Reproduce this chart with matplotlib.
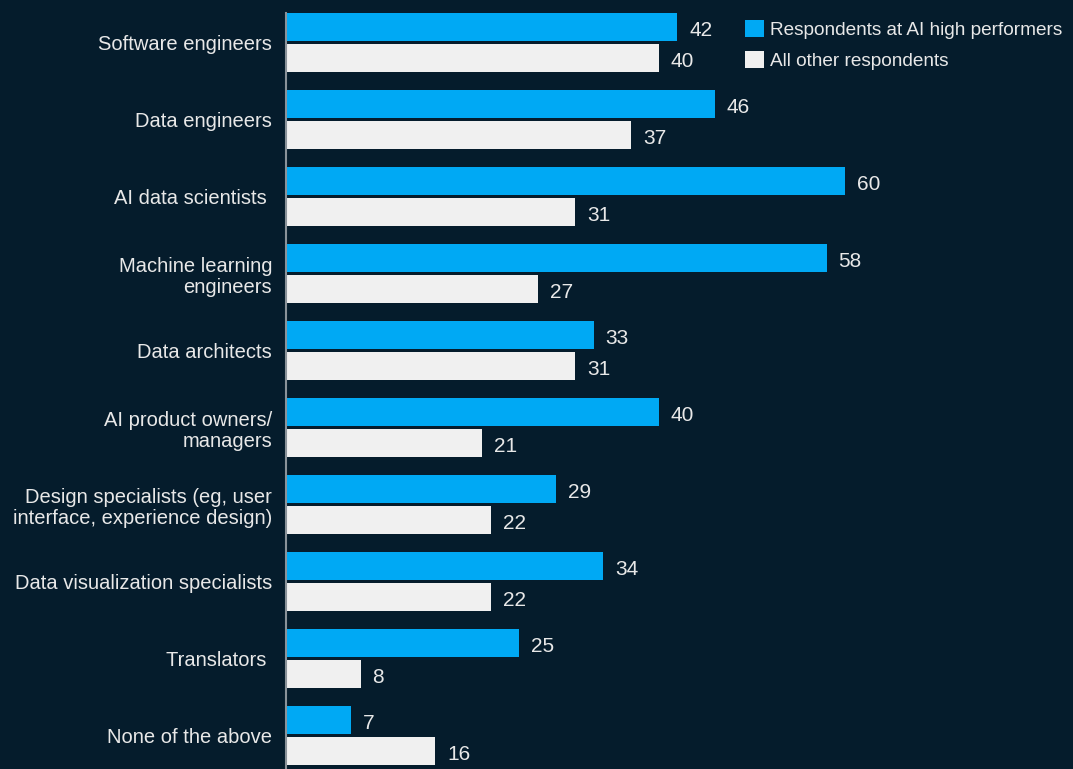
import matplotlib.pyplot as plt
import numpy as np

categories = [
    "Software engineers",
    "Data engineers",
    "AI data scientists ",
    "Machine learning\nengineers",
    "Data architects",
    "AI product owners/\nmanagers",
    "Design specialists (eg, user\ninterface, experience design)",
    "Data visualization specialists",
    "Translators ",
    "None of the above",
]
high_performers = [42, 46, 60, 58, 33, 40, 29, 34, 25, 7]
all_others = [40, 37, 31, 27, 31, 21, 22, 22, 8, 16]
series_names = ["Respondents at AI high performers", "All other respondents"]

BG = '#051c2c'
BLUE = '#00a9f4'
WHITE = '#f0f0f0'
TEXT = '#e8e8e8'

plt.rcParams['font.family'] = ['Liberation Sans', 'DejaVu Sans']

fig = plt.figure(figsize=(10.73, 7.69), dpi=100, facecolor=BG)
ax = fig.add_axes([286 / 1073, 0, 787 / 1073, 1], facecolor=BG)

pitch = 77.0
bar_h = 28 / pitch
off = 15.5 / pitch
y = np.arange(len(categories))

b1 = ax.barh(y - off, high_performers, height=bar_h, color=BLUE, label=series_names[0])
b2 = ax.barh(y + off, all_others, height=bar_h, color=WHITE, label=series_names[1])

# value labels
for bars in (b1, b2):
    for bar in bars:
        w = bar.get_width()
        ax.annotate(f'{w:.0f}', (w, bar.get_y() + bar.get_height() / 2),
                    xytext=(12, -3), textcoords='offset pixels',
                    ha='left', va='center', color=TEXT, fontsize=15)

ax.set_xlim(0, 787 / 9.32)
ax.set_ylim(9.435, -0.552)
ax.set_yticks(y)
ax.set_yticklabels(categories, color=TEXT, fontsize=14.5, linespacing=1.15)
ax.tick_params(axis='y', length=0, pad=10)
ax.set_xticks([])

for s in ['top', 'right', 'bottom']:
    ax.spines[s].set_visible(False)
ax.spines['left'].set_color('#8a9299')
ax.spines['left'].set_linewidth(1.5)
ax.spines['left'].set_bounds(-0.383, 9.5)

leg = fig.legend(loc='upper left', bbox_to_anchor=(745 / 1073, 1 - 20 / 769),
                 frameon=False, fontsize=13.7, labelcolor=TEXT,
                 handlelength=1.02, handleheight=1.02, handletextpad=0.28,
                 labelspacing=0.6, borderpad=0, borderaxespad=0)

plt.savefig('out.png', facecolor=BG)
